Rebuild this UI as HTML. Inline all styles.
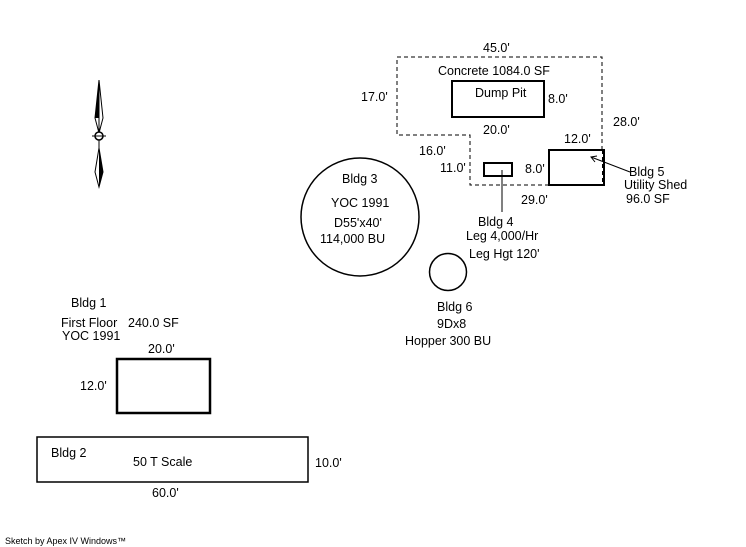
<!DOCTYPE html>
<html><head><style>
html,body{margin:0;padding:0;background:#fff;}
svg{display:block;}
text{font-family:"Liberation Sans",sans-serif;font-size:12.5px;fill:#000;}
</style></head><body>
<svg width="746" height="547" viewBox="0 0 746 547" xmlns="http://www.w3.org/2000/svg">
<!-- compass -->
<polygon points="99,80 95,118 99,133 103,118" fill="#fff" stroke="#000" stroke-width="1"/>
<polygon points="99,80 95,118 99,118" fill="#000"/>
<line x1="99" y1="80" x2="99" y2="187" stroke="#000"/>
<circle cx="99" cy="136" r="4" fill="#fff" stroke="#000" stroke-width="1.5"/>
<line x1="92" y1="136" x2="106" y2="136" stroke="#000"/>
<polygon points="99,148 95,172 99,187 103,172" fill="#fff" stroke="#000"/>
<polygon points="99,148 103,172 99,187" fill="#000"/>
<!-- concrete dashed -->
<polyline points="549,185 470,185 470,135 397,135 397,57 602,57 602,150" fill="none" stroke="#000" stroke-dasharray="4,3"/>
<rect x="452" y="81" width="92" height="36" fill="none" stroke="#000" stroke-width="2"/>
<rect x="549" y="150" width="55" height="35" fill="none" stroke="#000" stroke-width="2"/>
<line x1="603" y1="150" x2="603" y2="185" stroke="#000" stroke-width="2" stroke-dasharray="4,3"/>
<rect x="484" y="163" width="28" height="13" fill="none" stroke="#000" stroke-width="2"/>
<line x1="502" y1="170" x2="502" y2="212" stroke="#000"/>
<line x1="630" y1="172" x2="591" y2="157" stroke="#000"/>
<polyline points="597,156 591,157 595,162" fill="none" stroke="#000"/>
<circle cx="360" cy="217" r="59" fill="none" stroke="#000" stroke-width="1.5"/>
<circle cx="448" cy="272" r="18.5" fill="none" stroke="#000" stroke-width="1.5"/>
<rect x="117" y="359" width="93" height="54" fill="none" stroke="#000" stroke-width="2.5"/>
<rect x="37" y="437" width="271" height="45" fill="none" stroke="#000" stroke-width="1.5"/>
<!-- labels -->
<text x="483" y="52">45.0'</text>
<text x="438" y="75">Concrete 1084.0 SF</text>
<text x="475" y="97">Dump Pit</text>
<text x="548" y="103">8.0'</text>
<text x="361" y="101">17.0'</text>
<text x="613" y="126">28.0'</text>
<text x="483" y="134">20.0'</text>
<text x="564" y="143">12.0'</text>
<text x="419" y="155">16.0'</text>
<text x="440" y="172">11.0'</text>
<text x="525" y="173">8.0'</text>
<text x="521" y="204">29.0'</text>
<text x="629" y="176">Bldg 5</text>
<text x="624" y="189">Utility Shed</text>
<text x="626" y="203">96.0 SF</text>
<text x="342" y="183">Bldg 3</text>
<text x="331" y="207">YOC 1991</text>
<text x="334" y="227">D55'x40'</text>
<text x="320" y="243">114,000 BU</text>
<text x="478" y="226">Bldg 4</text>
<text x="466" y="240">Leg 4,000/Hr</text>
<text x="469" y="258">Leg Hgt 120'</text>
<text x="437" y="311">Bldg 6</text>
<text x="437" y="328">9Dx8</text>
<text x="405" y="345">Hopper 300 BU</text>
<text x="71" y="307">Bldg 1</text>
<text x="61" y="327">First Floor</text>
<text x="128" y="327">240.0 SF</text>
<text x="62" y="340">YOC 1991</text>
<text x="148" y="353">20.0'</text>
<text x="80" y="390">12.0'</text>
<text x="51" y="457">Bldg 2</text>
<text x="133" y="466">50 T Scale</text>
<text x="315" y="467">10.0'</text>
<text x="152" y="497">60.0'</text>
<text x="5" y="544" style="font-size:9px">Sketch by Apex IV Windows™</text>
</svg>
</body></html>
